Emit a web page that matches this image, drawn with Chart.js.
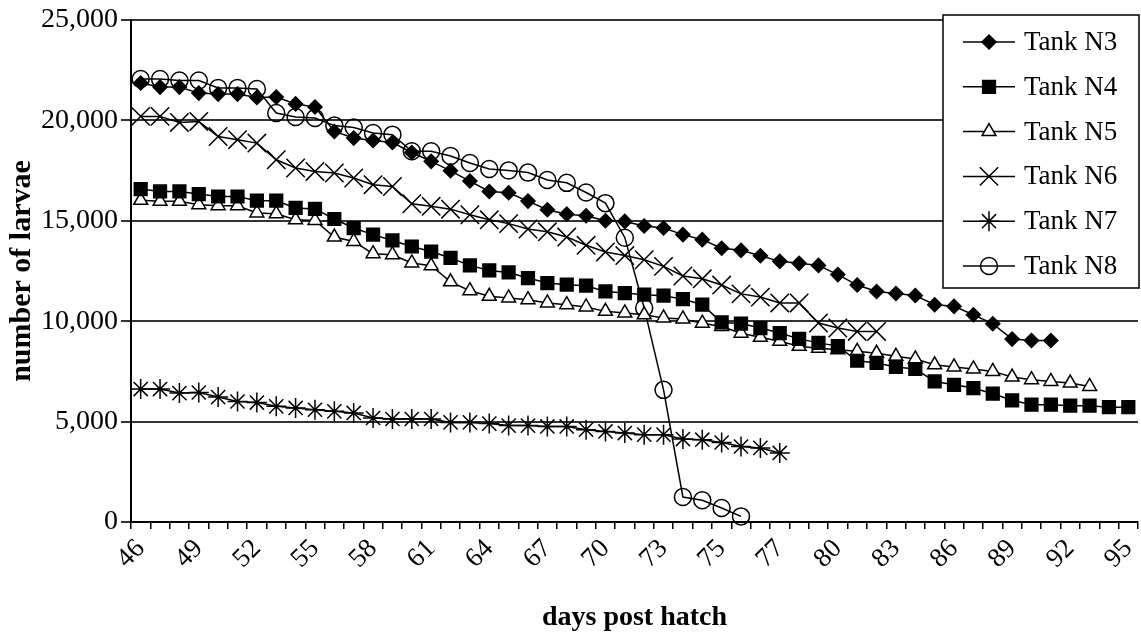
<!DOCTYPE html>
<html>
<head>
<meta charset="utf-8">
<script src="https://cdn.jsdelivr.net/npm/chart.js@4.4.0/dist/chart.umd.min.js"></script>
<style>
  html, body { margin: 0; padding: 0; background: #fff; }
  #wrap { width: 1141px; height: 635px; }
</style>
</head>
<body>
<div id="wrap"><canvas id="chart"></canvas></div>
<script>
// days post hatch, one entry per count (some days were counted twice)
const DAYS = [
  46, 47, 48, 49, 50, 51, 52, 53, 54, 55, 56, 57, 58, 59, 60, 61, 62, 63, 64, 65,
  66, 67, 68, 69, 70, 71, 72, 73, 74, 74, 75, 76, 76, 77, 78, 79, 80, 81, 82, 83,
  84, 85, 86, 87, 88, 89, 90, 91, 92, 93, 94, 95,
];

const TANK_N3 = [
  21860, 21660, 21660, 21360, 21310, 21310, 21140, 21160, 20820, 20670,
  19450, 19120, 19000, 18900, 18400, 17960, 17490, 16980, 16460, 16400,
  15980, 15550, 15330, 15250, 15000, 14970, 14740, 14640, 14310, 14060,
  13630, 13530, 13260, 12980, 12880, 12780, 12320, 11800, 11480, 11380,
  11280, 10820, 10740, 10320, 9870, 9110, 9040, 9040, null, null, null, null,
];
const TANK_N4 = [
  16580, 16460, 16460, 16330, 16210, 16210, 16000, 16000, 15640, 15590,
  15090, 14640, 14310, 14020, 13720, 13470, 13150, 12780, 12530, 12430,
  12150, 11900, 11820, 11770, 11480, 11400, 11320, 11270, 11100, 10820,
  9940, 9880, 9660, 9410, 9120, 8920, 8760, 8030, 7920, 7720,
  7620, 7000, 6830, 6670, 6390, 6060, 5840, 5840, 5790, 5790, 5720, 5720,
];
const TANK_N5 = [
  16020, 15970, 15970, 15800, 15750, 15750, 15390, 15350, 15050, 15020,
  14190, 13970, 13360, 13310, 12900, 12760, 11960, 11520, 11240, 11160,
  11070, 10910, 10820, 10710, 10490, 10410, 10320, 10160, 10110, 9900,
  9740, 9400, 9200, 9000, 8750, 8650, 8580, 8500, 8400, 8250,
  8120, 7830, 7720, 7620, 7500, 7220, 7090, 7000, 6920, 6750, null, null,
];
const TANK_N6 = [
  20200, 20200, 19900, 19950, 19200, 19040, 18870, 18040, 17630, 17460,
  17380, 17130, 16800, 16710, 15850, 15720, 15580, 15300, 15050, 14860,
  14590, 14450, 14190, 13780, 13450, 13270, 13060, 12730, 12250, 12110,
  11800, 11360, 11200, 10910, 10910, 9910, 9660, 9490, 9490, null,
  null, null, null, null, null, null, null, null, null, null, null, null,
];
const TANK_N7 = [
  6620, 6620, 6420, 6450, 6220, 6000, 5950, 5760, 5680, 5590,
  5510, 5430, 5180, 5130, 5130, 5130, 4960, 4960, 4900, 4800,
  4800, 4760, 4760, 4600, 4510, 4430, 4350, 4350, 4130, 4100,
  3960, 3760, 3690, 3440, null, null, null, null, null, null,
  null, null, null, null, null, null, null, null, null, null, null, null,
];
const TANK_N8 = [
  22060, 22060, 21990, 21990, 21610, 21610, 21560, 20370, 20170, 20120,
  19740, 19650, 19370, 19290, 18460, 18460, 18230, 17880, 17580, 17510,
  17400, 17030, 16890, 16410, 15880, 14160, 10660, 6580, 1245, 1080,
  700, 280, null, null, null, null, null, null, null, null,
  null, null, null, null, null, null, null, null, null, null, null, null,
];

const SERIF = "'Liberation Serif', 'Times New Roman', serif";

function series(label, data, style, radius, fill) {
  return {
    label: label,
    data: data,
    borderColor: "#000",
    borderWidth: 1.5,
    pointStyle: style,
    pointRadius: radius,
    pointBackgroundColor: fill,
    pointBorderColor: "#000",
    pointBorderWidth: 1.5,
    tension: 0,
    clip: false,
  };
}

// boxed legend drawn over the plot, like the original figure
const boxLegend = {
  id: "boxLegend",
  afterDraw(chart) {
    const ctx = chart.ctx;
    const x0 = 943, y0 = 15, w = 196, h = 273;
    ctx.save();
    ctx.fillStyle = "#fff";
    ctx.fillRect(x0, y0, w, h);
    ctx.strokeStyle = "#000";
    ctx.lineWidth = 1.5;
    ctx.strokeRect(x0, y0, w, h);
    chart.data.datasets.forEach((ds, i) => {
      const y = y0 + 27 + i * 44.8;
      ctx.strokeStyle = "#000";
      ctx.lineWidth = 1.5;
      ctx.beginPath();
      ctx.moveTo(x0 + 20, y);
      ctx.lineTo(x0 + 72, y);
      ctx.stroke();
      if (Chart.helpers && Chart.helpers.drawPoint) {
        ctx.fillStyle = ds.pointBackgroundColor;
        ctx.strokeStyle = ds.pointBorderColor;
        ctx.lineWidth = ds.pointBorderWidth;
        Chart.helpers.drawPoint(ctx, {
          pointStyle: ds.pointStyle,
          radius: ds.pointRadius,
          borderWidth: ds.pointBorderWidth,
          rotation: 0,
        }, x0 + 46, y);
      }
      ctx.fillStyle = "#000";
      ctx.font = "27px " + SERIF;
      ctx.textBaseline = "middle";
      ctx.textAlign = "left";
      ctx.fillText(ds.label, x0 + 81, y + 1);
    });
    ctx.restore();
  },
};

new Chart(document.getElementById("chart").getContext("2d"), {
  type: "line",
  data: {
    labels: DAYS,
    datasets: [
      series("Tank N3", TANK_N3, "rectRot", 7, "#000"),
      series("Tank N4", TANK_N4, "rect", 9, "#000"),
      series("Tank N5", TANK_N5, "triangle", 8, "#fff"),
      series("Tank N6", TANK_N6, "crossRot", 13, "#000"),
      series("Tank N7", TANK_N7, "star", 10, "#000"),
      series("Tank N8", TANK_N8, "circle", 8.5, "rgba(0,0,0,0)"),
    ],
  },
  options: {
    responsive: true,
    maintainAspectRatio: false,
    animation: false,
    layout: {
      autoPadding: false,
      padding: { top: 20, right: 3, left: 0, bottom: 0 },
    },
    plugins: {
      legend: { display: false },
      tooltip: { enabled: false },
    },
    scales: {
      x: {
        type: "category",
        offset: true,
        afterFit: (scale) => {
          scale.height = 113;
          scale.paddingLeft = 0;
          scale.paddingRight = 0;
        },
        grid: {
          offset: true,
          drawOnChartArea: false,
          drawTicks: true,
          tickLength: 7,
          color: "#000",
          lineWidth: 1.5,
        },
        border: { color: "#000", width: 2 },
        ticks: {
          autoSkip: false,
          minRotation: 45,
          maxRotation: 45,
          color: "#000",
          padding: 4,
          font: { family: SERIF, size: 27 },
          callback: function (value, index) {
            return index % 3 === 0 ? String(DAYS[index]) : "";
          },
        },
        title: {
          display: true,
          text: "days post hatch",
          color: "#000",
          padding: { top: 4, bottom: 0 },
          font: { family: SERIF, size: 28, weight: "bold" },
        },
      },
      y: {
        min: 0,
        max: 25000,
        afterFit: (scale) => { scale.width = 131; },
        grid: {
          color: "#333",
          lineWidth: 2,
          drawTicks: true,
          tickLength: 10,
        },
        border: { color: "#000", width: 2 },
        ticks: {
          stepSize: 5000,
          color: "#000",
          padding: 3,
          font: { family: SERIF, size: 28 },
          callback: (v) => v.toLocaleString("en-US"),
        },
        title: {
          display: true,
          text: "number of larvae",
          color: "#000",
          font: { family: SERIF, size: 30, weight: "bold" },
        },
      },
    },
  },
  plugins: [boxLegend],
});
</script>
</body>
</html>
